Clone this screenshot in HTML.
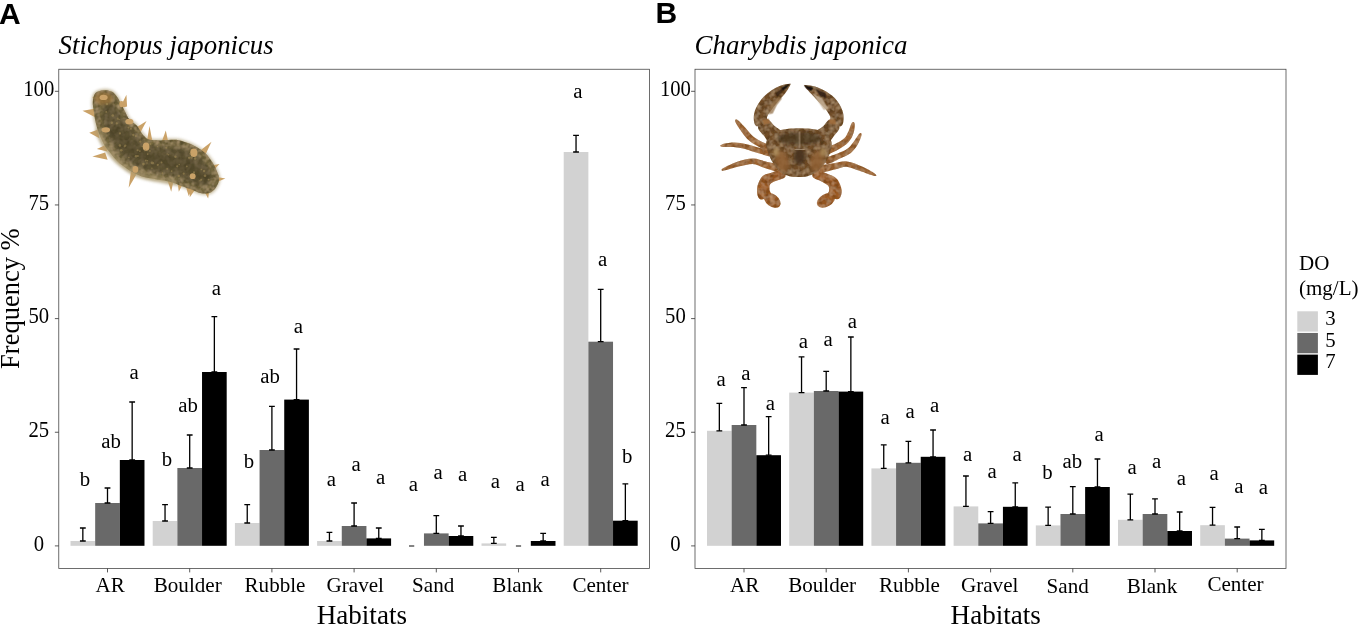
<!DOCTYPE html>
<html><head><meta charset="utf-8"><title>Figure</title>
<style>html,body{margin:0;padding:0;background:#fff;}svg{display:block;}text{font-family:"Liberation Serif",serif;fill:#000;}svg{will-change:transform;}.sans{font-family:"Liberation Sans",sans-serif;font-weight:bold;}</style></head><body>
<svg width="1358" height="625" viewBox="0 0 1358 625">
<rect x="0" y="0" width="1358" height="625" fill="#ffffff"/>
<g id="panelA">
<rect x="70.51" y="541" width="24.66" height="4.8" fill="#d2d2d2"/>
<rect x="95.17" y="503" width="24.66" height="42.8" fill="#696969"/>
<rect x="119.83" y="460" width="24.66" height="85.8" fill="#000000"/>
<rect x="152.71" y="521" width="24.66" height="24.8" fill="#d2d2d2"/>
<rect x="177.37" y="468" width="24.66" height="77.8" fill="#696969"/>
<rect x="202.03" y="372" width="24.66" height="173.8" fill="#000000"/>
<rect x="234.91" y="523" width="24.66" height="22.8" fill="#d2d2d2"/>
<rect x="259.57" y="450" width="24.66" height="95.8" fill="#696969"/>
<rect x="284.23" y="399.6" width="24.66" height="146.2" fill="#000000"/>
<rect x="317.11" y="541" width="24.66" height="4.8" fill="#d2d2d2"/>
<rect x="341.77" y="526" width="24.66" height="19.8" fill="#696969"/>
<rect x="366.43" y="538.4" width="24.66" height="7.4" fill="#000000"/>
<rect x="423.97" y="533.4" width="24.66" height="12.4" fill="#696969"/>
<rect x="448.63" y="536" width="24.66" height="9.8" fill="#000000"/>
<rect x="481.51" y="543.4" width="24.66" height="2.4" fill="#d2d2d2"/>
<rect x="530.83" y="541" width="24.66" height="4.8" fill="#000000"/>
<rect x="563.71" y="152" width="24.66" height="393.8" fill="#d2d2d2"/>
<rect x="588.37" y="341.7" width="24.66" height="204.1" fill="#696969"/>
<rect x="613.03" y="520.7" width="24.66" height="25.1" fill="#000000"/>
<g stroke="#000" stroke-width="1.3" fill="none">
<path d="M79.94 528H85.74M82.84 528V541M79.94 541H85.74"/>
<path d="M104.6 488H110.4M107.5 488V503M104.6 503H110.4"/>
<path d="M129.26 402H135.06M132.16 402V460M129.26 460H135.06"/>
<path d="M162.14 504.6H167.94M165.04 504.6V521M162.14 521H167.94"/>
<path d="M186.8 435H192.6M189.7 435V468M186.8 468H192.6"/>
<path d="M211.46 316.6H217.26M214.36 316.6V372M211.46 372H217.26"/>
<path d="M244.34 504.6H250.14M247.24 504.6V523M244.34 523H250.14"/>
<path d="M269 406.4H274.8M271.9 406.4V450M269 450H274.8"/>
<path d="M293.66 349H299.46M296.56 349V399.6M293.66 399.6H299.46"/>
<path d="M326.54 532.4H332.34M329.44 532.4V541M326.54 541H332.34"/>
<path d="M351.2 503H357M354.1 503V526M351.2 526H357"/>
<path d="M375.86 528H381.66M378.76 528V538.4M375.86 538.4H381.66"/>
<path d="M409.04 546H414.24" stroke-opacity="0.75"/>
<path d="M433.4 515.6H439.2M436.3 515.6V533.4M433.4 533.4H439.2"/>
<path d="M458.06 526H463.86M460.96 526V536M458.06 536H463.86"/>
<path d="M490.94 537.4H496.74M493.84 537.4V543.4M490.94 543.4H496.74"/>
<path d="M515.9 546H521.1" stroke-opacity="0.75"/>
<path d="M540.26 533.4H546.06M543.16 533.4V541M540.26 541H546.06"/>
<path d="M573.14 135.3H578.94M576.04 135.3V152M573.14 152H578.94"/>
<path d="M597.8 289.3H603.6M600.7 289.3V341.7M597.8 341.7H603.6"/>
<path d="M622.46 483.9H628.26M625.36 483.9V520.7M622.46 520.7H628.26"/>
</g>
<rect x="58.78" y="69.25" width="590.72" height="499.25" fill="none" stroke="#444" stroke-width="0.78"/>
<g stroke="#3c3c3c" stroke-width="0.85">
<line x1="54.88" y1="545.9" x2="58.78" y2="545.9"/>
<line x1="54.88" y1="432.25" x2="58.78" y2="432.25"/>
<line x1="54.88" y1="318.6" x2="58.78" y2="318.6"/>
<line x1="54.88" y1="204.95" x2="58.78" y2="204.95"/>
<line x1="54.88" y1="91.3" x2="58.78" y2="91.3"/>
<line x1="107.5" y1="568.5" x2="107.5" y2="572.4"/>
<line x1="189.7" y1="568.5" x2="189.7" y2="572.4"/>
<line x1="271.9" y1="568.5" x2="271.9" y2="572.4"/>
<line x1="354.1" y1="568.5" x2="354.1" y2="572.4"/>
<line x1="436.3" y1="568.5" x2="436.3" y2="572.4"/>
<line x1="518.5" y1="568.5" x2="518.5" y2="572.4"/>
<line x1="600.7" y1="568.5" x2="600.7" y2="572.4"/>
</g>
<g font-size="20.7" text-anchor="middle">
<text transform="translate(38.8 550.5) scale(1 1.09)">0</text>
<text transform="translate(38.8 436.85) scale(1 1.09)">25</text>
<text transform="translate(38.8 323.2) scale(1 1.09)">50</text>
<text transform="translate(38.8 209.55) scale(1 1.09)">75</text>
<text transform="translate(38.8 95.9) scale(1 1.09)">100</text>
</g>
<g font-size="21.1" text-anchor="middle">
<text transform="translate(110.1 591.6) scale(1 1.03)">AR</text>
<text transform="translate(187.7 591.6) scale(1 1.03)">Boulder</text>
<text transform="translate(275 591.6) scale(1 1.03)">Rubble</text>
<text transform="translate(355.3 591.6) scale(1 1.03)">Gravel</text>
<text transform="translate(433.2 591.8) scale(1 1.03)">Sand</text>
<text transform="translate(517.5 591.8) scale(1 1.03)">Blank</text>
<text transform="translate(600.5 591.8) scale(1 1.03)">Center</text>
</g>
<g font-size="20.8" text-anchor="middle">
<text x="85" y="485.6">b</text>
<text x="111" y="448">ab</text>
<text x="134.2" y="379">a</text>
<text x="167" y="466">b</text>
<text x="188" y="412.4">ab</text>
<text x="216.4" y="295.4">a</text>
<text x="249" y="468">b</text>
<text x="270" y="383.4">ab</text>
<text x="298.4" y="333">a</text>
<text x="331.4" y="486">a</text>
<text x="356" y="470.6">a</text>
<text x="380.6" y="483.6">a</text>
<text x="413.4" y="491">a</text>
<text x="438" y="478.6">a</text>
<text x="462.6" y="481">a</text>
<text x="495.4" y="488">a</text>
<text x="520" y="491">a</text>
<text x="545" y="486">a</text>
<text x="577.8" y="97.5">a</text>
<text x="602.6" y="265.6">a</text>
<text x="627.1" y="462.9">b</text>
</g>
</g>
<g id="panelB">
<rect x="707.01" y="430.8" width="24.66" height="115" fill="#d2d2d2"/>
<rect x="731.67" y="425" width="24.66" height="120.8" fill="#696969"/>
<rect x="756.33" y="455.2" width="24.66" height="90.6" fill="#000000"/>
<rect x="789.21" y="392.6" width="24.66" height="153.2" fill="#d2d2d2"/>
<rect x="813.87" y="391" width="24.66" height="154.8" fill="#696969"/>
<rect x="838.53" y="391.6" width="24.66" height="154.2" fill="#000000"/>
<rect x="871.41" y="468.4" width="24.66" height="77.4" fill="#d2d2d2"/>
<rect x="896.07" y="462.8" width="24.66" height="83" fill="#696969"/>
<rect x="920.73" y="456.8" width="24.66" height="89" fill="#000000"/>
<rect x="953.61" y="506.4" width="24.66" height="39.4" fill="#d2d2d2"/>
<rect x="978.27" y="523.4" width="24.66" height="22.4" fill="#696969"/>
<rect x="1002.93" y="506.8" width="24.66" height="39" fill="#000000"/>
<rect x="1035.81" y="525.4" width="24.66" height="20.4" fill="#d2d2d2"/>
<rect x="1060.47" y="514" width="24.66" height="31.8" fill="#696969"/>
<rect x="1085.13" y="487" width="24.66" height="58.8" fill="#000000"/>
<rect x="1118.01" y="519.8" width="24.66" height="26" fill="#d2d2d2"/>
<rect x="1142.67" y="514" width="24.66" height="31.8" fill="#696969"/>
<rect x="1167.33" y="531" width="24.66" height="14.8" fill="#000000"/>
<rect x="1200.21" y="525.2" width="24.66" height="20.6" fill="#d2d2d2"/>
<rect x="1224.87" y="538.6" width="24.66" height="7.2" fill="#696969"/>
<rect x="1249.53" y="540.4" width="24.66" height="5.4" fill="#000000"/>
<g stroke="#000" stroke-width="1.3" fill="none">
<path d="M716.44 403.4H722.24M719.34 403.4V430.8M716.44 430.8H722.24"/>
<path d="M741.1 387.6H746.9M744 387.6V425M741.1 425H746.9"/>
<path d="M765.76 416.6H771.56M768.66 416.6V455.2M765.76 455.2H771.56"/>
<path d="M798.64 356.8H804.44M801.54 356.8V392.6M798.64 392.6H804.44"/>
<path d="M823.3 371.4H829.1M826.2 371.4V391M823.3 391H829.1"/>
<path d="M847.96 337H853.76M850.86 337V391.6M847.96 391.6H853.76"/>
<path d="M880.84 444.8H886.64M883.74 444.8V468.4M880.84 468.4H886.64"/>
<path d="M905.5 441.4H911.3M908.4 441.4V462.8M905.5 462.8H911.3"/>
<path d="M930.16 430H935.96M933.06 430V456.8M930.16 456.8H935.96"/>
<path d="M963.04 476H968.84M965.94 476V506.4M963.04 506.4H968.84"/>
<path d="M987.7 511.6H993.5M990.6 511.6V523.4M987.7 523.4H993.5"/>
<path d="M1012.36 482.8H1018.16M1015.26 482.8V506.8M1012.36 506.8H1018.16"/>
<path d="M1045.24 507.2H1051.04M1048.14 507.2V525.4M1045.24 525.4H1051.04"/>
<path d="M1069.9 486.6H1075.7M1072.8 486.6V514M1069.9 514H1075.7"/>
<path d="M1094.56 459H1100.36M1097.46 459V487M1094.56 487H1100.36"/>
<path d="M1127.44 494.2H1133.24M1130.34 494.2V519.8M1127.44 519.8H1133.24"/>
<path d="M1152.1 498.8H1157.9M1155 498.8V514M1152.1 514H1157.9"/>
<path d="M1176.76 512H1182.56M1179.66 512V531M1176.76 531H1182.56"/>
<path d="M1209.64 507.4H1215.44M1212.54 507.4V525.2M1209.64 525.2H1215.44"/>
<path d="M1234.3 527H1240.1M1237.2 527V538.6M1234.3 538.6H1240.1"/>
<path d="M1258.96 529.4H1264.76M1261.86 529.4V540.4M1258.96 540.4H1264.76"/>
</g>
<rect x="695" y="69.25" width="591" height="499.25" fill="none" stroke="#444" stroke-width="0.78"/>
<g stroke="#3c3c3c" stroke-width="0.85">
<line x1="691.1" y1="545.9" x2="695" y2="545.9"/>
<line x1="691.1" y1="432.25" x2="695" y2="432.25"/>
<line x1="691.1" y1="318.6" x2="695" y2="318.6"/>
<line x1="691.1" y1="204.95" x2="695" y2="204.95"/>
<line x1="691.1" y1="91.3" x2="695" y2="91.3"/>
<line x1="744" y1="568.5" x2="744" y2="572.4"/>
<line x1="826.2" y1="568.5" x2="826.2" y2="572.4"/>
<line x1="908.4" y1="568.5" x2="908.4" y2="572.4"/>
<line x1="990.6" y1="568.5" x2="990.6" y2="572.4"/>
<line x1="1072.8" y1="568.5" x2="1072.8" y2="572.4"/>
<line x1="1155" y1="568.5" x2="1155" y2="572.4"/>
<line x1="1237.2" y1="568.5" x2="1237.2" y2="572.4"/>
</g>
<g font-size="20.7" text-anchor="middle">
<text transform="translate(675.45 550.5) scale(1 1.09)">0</text>
<text transform="translate(675.45 436.85) scale(1 1.09)">25</text>
<text transform="translate(675.45 323.2) scale(1 1.09)">50</text>
<text transform="translate(675.45 209.55) scale(1 1.09)">75</text>
<text transform="translate(675.45 95.9) scale(1 1.09)">100</text>
</g>
<g font-size="21.1" text-anchor="middle">
<text transform="translate(744.7 592.3) scale(1 1.03)">AR</text>
<text transform="translate(822.1 592.3) scale(1 1.03)">Boulder</text>
<text transform="translate(909.5 592.3) scale(1 1.03)">Rubble</text>
<text transform="translate(989.7 592.3) scale(1 1.03)">Gravel</text>
<text transform="translate(1067.7 593.2) scale(1 1.03)">Sand</text>
<text transform="translate(1152 593.2) scale(1 1.03)">Blank</text>
<text transform="translate(1235.5 591.4) scale(1 1.03)">Center</text>
</g>
<g font-size="20.8" text-anchor="middle">
<text x="721.2" y="385.6">a</text>
<text x="745.8" y="380">a</text>
<text x="770.4" y="410">a</text>
<text x="803.4" y="347.6">a</text>
<text x="828" y="346">a</text>
<text x="852.4" y="327.6">a</text>
<text x="885.2" y="423.6">a</text>
<text x="910" y="418">a</text>
<text x="934.6" y="412">a</text>
<text x="967.6" y="461">a</text>
<text x="992.2" y="478">a</text>
<text x="1017" y="461">a</text>
<text x="1047.4" y="479.4">b</text>
<text x="1072.4" y="468">ab</text>
<text x="1099" y="441.4">a</text>
<text x="1132" y="474">a</text>
<text x="1156.6" y="468">a</text>
<text x="1181.4" y="485.4">a</text>
<text x="1214" y="480">a</text>
<text x="1238.8" y="493">a</text>
<text x="1263.4" y="494.4">a</text>
</g>
</g>
<text x="58.6" y="53.6" font-size="26.8" font-style="italic">Stichopus japonicus</text>
<text x="694.6" y="53.6" font-size="26.9" font-style="italic">Charybdis japonica</text>
<text class="sans" x="-1" y="24" font-size="30">A</text>
<text class="sans" x="655.5" y="23.1" font-size="30">B</text>
<text x="316.7" y="624.0" font-size="27.1">Habitats</text>
<text x="950.6" y="624.3" font-size="27.1">Habitats</text>
<text transform="translate(19 368.9) rotate(-90)" font-size="26.5">Frequency %</text>
<text x="1299" y="269.5" font-size="21">DO</text>
<text x="1299" y="295.2" font-size="21">(mg/L)</text>
<rect x="1297.3" y="311.3" width="20.6" height="20.3" fill="#d2d2d2"/>
<text x="1325.3" y="325.2" font-size="20.8">3</text>
<rect x="1297.3" y="332.95" width="20.6" height="20.3" fill="#696969"/>
<text x="1325.3" y="346.8" font-size="20.8">5</text>
<rect x="1297.3" y="354.6" width="20.6" height="20.3" fill="#000000"/>
<text x="1325.3" y="368.4" font-size="20.8">7</text>
<defs><filter id="bl3" x="-20%" y="-20%" width="140%" height="140%"><feGaussianBlur stdDeviation="2.2"/></filter><filter id="bl8" x="-30%" y="-30%" width="160%" height="160%"><feGaussianBlur stdDeviation="8"/></filter><filter id="mot" x="-10%" y="-10%" width="120%" height="120%"><feTurbulence type="fractalNoise" baseFrequency="0.045" numOctaves="2" seed="7" result="n"/><feColorMatrix in="n" type="matrix" values="0 0 0 0 0  0 0 0 0 0  0 0 0 0 0  0.9 0 0 0 -0.32" result="d"/><feComposite in="d" in2="SourceGraphic" operator="in" result="dd"/><feColorMatrix in="n" type="matrix" values="0 0 0 0 0.74  0 0 0 0 0.54  0 0 0 0 0.32  0 0.8 0 0 -0.3" result="l"/><feComposite in="l" in2="SourceGraphic" operator="in" result="ll"/><feMerge><feMergeNode in="SourceGraphic"/><feMergeNode in="dd"/><feMergeNode in="ll"/></feMerge><feGaussianBlur stdDeviation="2.4"/></filter></defs>
<g transform="translate(70,75) scale(0.22388)">
<path d="M113 82C121 73 138 69 150 68C162 67 178 70 188 75C198 80 205 91 212 100C219 109 222 119 228 130C234 141 241 154 247 165C253 176 256 188 265 198C274 208 290 217 300 228C310 239 314 252 322 262C330 272 338 281 348 286C358 291 370 291 385 292C400 293 423 290 440 290C457 290 470 288 485 291C500 294 517 300 530 305C543 310 553 315 565 322C577 329 590 336 602 347C614 358 627 376 636 390C645 404 652 419 657 432C662 445 667 455 666 467C665 479 659 492 652 502C645 512 634 523 622 527C610 531 595 530 582 527C569 524 559 517 545 512C531 507 513 502 500 497C487 492 480 487 468 483C456 479 443 476 430 473C417 470 405 470 390 467C375 464 355 462 340 458C325 454 312 449 300 444C288 439 278 434 268 428C258 422 248 415 238 407C228 399 217 391 208 382C199 373 191 362 183 352C175 342 166 332 158 320C150 308 144 293 138 280C132 267 126 253 122 240C118 227 115 213 112 200C109 187 108 173 106 160C104 147 101 133 102 120C103 107 105 91 113 82Z" fill="#a39060" stroke="#a39060" stroke-width="12" opacity="0.6" filter="url(#bl8)"/>
<g filter="url(#bl3)" fill="#caa268">
<path d="M124 148L56 160L119 192Z"/>
<path d="M126 243L86 258L131 282Z"/>
<path d="M161 311L120 330L167 342Z"/>
<path d="M157 346L100 364L168 379Z"/>
<path d="M222 149L252 88L255 141Z"/>
<path d="M280 245L342 206L307 270Z"/>
<path d="M343 300L355 228L369 300Z"/>
<path d="M405 310L428 248L441 310Z"/>
<path d="M566 349L632 298L599 368Z"/>
<path d="M632 451L694 462L643 484Z"/>
<path d="M623 405L668 398L637 430Z"/>
<path d="M274 417L262 504L306 428Z"/>
<path d="M431 456L452 522L464 464Z"/>
<path d="M480 472L486 522L507 480Z"/>
<path d="M534 497L535 546L562 508Z"/>
<path d="M595 510L617 552L623 510Z"/>
<path d="M128 106L98 100L146 88Z"/>
<path d="M513 483L530 540L552 497Z"/>
</g>
<path d="M113 82C121 73 138 69 150 68C162 67 178 70 188 75C198 80 205 91 212 100C219 109 222 119 228 130C234 141 241 154 247 165C253 176 256 188 265 198C274 208 290 217 300 228C310 239 314 252 322 262C330 272 338 281 348 286C358 291 370 291 385 292C400 293 423 290 440 290C457 290 470 288 485 291C500 294 517 300 530 305C543 310 553 315 565 322C577 329 590 336 602 347C614 358 627 376 636 390C645 404 652 419 657 432C662 445 667 455 666 467C665 479 659 492 652 502C645 512 634 523 622 527C610 531 595 530 582 527C569 524 559 517 545 512C531 507 513 502 500 497C487 492 480 487 468 483C456 479 443 476 430 473C417 470 405 470 390 467C375 464 355 462 340 458C325 454 312 449 300 444C288 439 278 434 268 428C258 422 248 415 238 407C228 399 217 391 208 382C199 373 191 362 183 352C175 342 166 332 158 320C150 308 144 293 138 280C132 267 126 253 122 240C118 227 115 213 112 200C109 187 108 173 106 160C104 147 101 133 102 120C103 107 105 91 113 82Z" fill="#74673f" filter="url(#mot)"/>
<path d="M150 120C158 110 181 122 195 135C209 148 220 175 235 195C250 215 268 238 285 255C302 272 313 289 335 300C357 311 388 317 415 322C442 327 474 322 500 328C526 334 550 344 570 358C590 372 608 396 618 415C628 434 633 457 628 470C623 483 610 496 590 495C570 494 532 471 505 462C478 453 452 448 425 442C398 436 370 433 345 425C320 417 294 406 272 392C250 378 232 360 215 340C198 320 183 296 172 272C161 248 152 220 148 195C144 170 142 130 150 120Z" fill="#4c432a" opacity="0.55" filter="url(#bl8)"/>
<path d="M125 250C150 330 215 395 290 440C350 462 420 470 470 480" stroke="#ab9a70" stroke-width="26" fill="none" opacity="0.6" stroke-linecap="round" filter="url(#bl8)"/>
<ellipse cx="150" cy="105" rx="42" ry="28" fill="#9a7238" opacity="0.7" filter="url(#bl8)"/>
<path d="M200 250C260 340 330 370 420 385C500 395 560 420 600 460" stroke="#3f371f" stroke-width="45" fill="none" opacity="0.3" stroke-linecap="round" filter="url(#bl8)"/>
<g filter="url(#bl3)" fill="#caa268">
<ellipse cx="265" cy="208" rx="18" ry="13"/>
<ellipse cx="160" cy="245" rx="19" ry="12"/>
<ellipse cx="340" cy="320" rx="15" ry="18"/>
<ellipse cx="553" cy="347" rx="16" ry="19"/>
<ellipse cx="292" cy="422" rx="13" ry="15"/>
<ellipse cx="548" cy="452" rx="13" ry="13"/>
<ellipse cx="150" cy="100" rx="18" ry="12"/>
<ellipse cx="230" cy="130" rx="10" ry="14"/>
</g>
<g fill="#a08a55" opacity="0.6" filter="url(#bl3)">
<circle cx="244" cy="319" r="4.1"/>
<circle cx="434" cy="353" r="3.2"/>
<circle cx="392" cy="401" r="5.0"/>
<circle cx="366" cy="392" r="5.6"/>
<circle cx="191" cy="181" r="5.9"/>
<circle cx="347" cy="353" r="3.9"/>
<circle cx="302" cy="336" r="4.8"/>
<circle cx="603" cy="450" r="6.0"/>
<circle cx="223" cy="261" r="4.8"/>
<circle cx="619" cy="467" r="4.1"/>
<circle cx="359" cy="308" r="4.9"/>
<circle cx="430" cy="325" r="4.9"/>
<circle cx="344" cy="393" r="3.7"/>
<circle cx="391" cy="320" r="3.0"/>
<circle cx="336" cy="334" r="3.1"/>
<circle cx="440" cy="356" r="3.2"/>
<circle cx="488" cy="400" r="3.1"/>
<circle cx="357" cy="339" r="4.0"/>
<circle cx="312" cy="340" r="3.9"/>
<circle cx="346" cy="383" r="3.3"/>
<circle cx="295" cy="363" r="5.7"/>
<circle cx="454" cy="429" r="4.0"/>
<circle cx="187" cy="213" r="5.4"/>
<circle cx="261" cy="235" r="4.3"/>
<circle cx="508" cy="441" r="5.0"/>
<circle cx="586" cy="468" r="4.7"/>
<circle cx="209" cy="216" r="5.0"/>
<circle cx="223" cy="315" r="5.5"/>
<circle cx="599" cy="429" r="5.5"/>
<circle cx="366" cy="416" r="3.0"/>
<circle cx="303" cy="362" r="4.8"/>
<circle cx="409" cy="391" r="4.1"/>
<circle cx="162" cy="165" r="4.1"/>
<circle cx="434" cy="419" r="4.1"/>
<circle cx="537" cy="352" r="4.3"/>
<circle cx="314" cy="298" r="5.1"/>
<circle cx="339" cy="382" r="4.4"/>
<circle cx="247" cy="315" r="5.1"/>
<circle cx="587" cy="422" r="3.8"/>
<circle cx="543" cy="368" r="5.7"/>
<circle cx="532" cy="370" r="5.2"/>
<circle cx="559" cy="373" r="5.5"/>
<circle cx="413" cy="438" r="3.7"/>
<circle cx="213" cy="195" r="4.8"/>
<circle cx="479" cy="408" r="5.0"/>
<circle cx="554" cy="435" r="4.7"/>
<circle cx="370" cy="393" r="5.6"/>
<circle cx="328" cy="398" r="5.9"/>
<circle cx="219" cy="199" r="3.6"/>
<circle cx="486" cy="451" r="5.7"/>
<circle cx="283" cy="268" r="5.2"/>
<circle cx="165" cy="129" r="5.5"/>
<circle cx="272" cy="240" r="4.7"/>
<circle cx="294" cy="273" r="4.5"/>
<circle cx="229" cy="336" r="5.9"/>
<circle cx="323" cy="319" r="3.4"/>
<circle cx="263" cy="369" r="3.3"/>
<circle cx="581" cy="472" r="3.3"/>
<circle cx="522" cy="408" r="3.9"/>
<circle cx="471" cy="365" r="5.4"/>
</g>
</g>
<g transform="translate(710,75) scale(0.22388)">
<g filter="url(#mot)" fill="#9c6433">
<path d="M290 322C284 314 257 311 241 303C225 295 207 286 193 275C180 264 171 250 159 237C148 225 131 206 123 201C115 196 110 200 113 209C116 218 130 238 141 253C151 267 162 283 177 295C191 307 212 318 229 327C246 336 270 349 280 348C290 347 297 330 290 322Z"/>
<path d="M283 339C274 333 243 331 223 326C203 321 182 313 163 309C143 305 124 301 105 302C87 302 60 307 52 311C43 314 44 319 52 321C61 323 87 321 105 322C122 324 139 327 157 331C176 336 197 345 217 350C237 356 266 366 277 365C288 363 292 346 283 339Z"/>
<path d="M304 401C296 394 268 391 249 386C230 382 211 372 190 373C169 373 144 380 122 387C100 395 68 410 58 417C48 423 50 429 62 427C74 426 107 414 128 409C149 404 171 397 190 397C209 398 224 408 241 414C259 419 286 431 296 429C307 427 312 408 304 401Z"/>
<path d="M526 353C536 353 561 339 577 330C592 321 609 311 619 299C630 287 637 273 641 259C646 246 648 224 646 217C645 209 638 208 634 213C629 219 624 239 619 251C613 262 610 272 601 281C591 290 578 299 563 306C549 314 521 319 514 327C508 335 515 352 526 353Z"/>
<path d="M525 397C536 397 563 382 580 373C598 365 616 358 629 348C642 337 651 324 659 311C667 298 676 276 677 268C679 260 673 257 667 262C661 267 650 288 641 299C632 310 627 320 615 328C603 337 586 343 570 351C553 358 522 365 515 373C508 381 514 397 525 397Z"/>
<path d="M498 434C509 436 539 426 558 422C576 418 593 409 611 410C629 412 648 422 668 428C688 435 721 448 733 451C744 453 747 449 737 441C728 434 697 417 676 408C655 398 634 388 613 386C592 383 573 391 552 394C532 398 501 400 492 406C483 413 487 431 498 434Z"/>
</g>
<g filter="url(#mot)" fill="#9c5c25">
<path d="M324 422C314 419 292 430 277 436C261 441 242 443 231 456C220 469 211 495 210 511C209 528 214 550 224 555C234 560 265 548 272 541C279 534 266 522 266 513C266 504 265 494 269 488C274 482 282 480 293 474C304 469 331 463 336 454C341 445 334 425 324 422Z"/>
<path d="M459 456C464 465 489 470 501 477C513 484 524 490 529 496C534 503 532 510 532 517C532 524 519 532 526 538C533 544 563 558 574 554C584 550 589 530 588 515C587 500 578 476 567 464C555 451 535 446 519 439C503 433 481 421 471 424C461 427 454 447 459 456Z"/>
<ellipse cx="278" cy="560" rx="42" ry="27" transform="rotate(38 278 560)"/>
<ellipse cx="518" cy="560" rx="44" ry="28" transform="rotate(-30 518 560)"/>
</g>
<g filter="url(#mot)" fill="#73502c">
<path d="M323 262C325 248 300 239 288 228C277 217 266 197 253 198C241 198 216 220 215 232C213 245 231 259 242 272C252 285 263 310 277 308C290 307 321 275 323 262Z"/>
<path d="M255 223C263 216 252 198 255 187C259 175 267 166 276 154C285 141 299 125 309 112C320 100 331 89 339 77C348 66 356 51 359 44C361 38 362 39 355 40C348 40 331 41 317 47C303 52 286 60 271 72C255 83 236 99 224 116C212 133 200 155 197 173C194 192 195 219 205 227C215 235 247 230 255 223Z"/>
<path d="M518 308C532 310 544 284 554 271C564 259 581 243 578 231C576 219 550 199 538 199C526 198 517 218 506 229C495 239 470 248 472 262C474 275 505 307 518 308Z"/>
<path d="M588 227C597 218 599 192 595 173C592 155 581 132 568 116C556 99 537 86 521 75C505 65 488 57 472 52C456 47 435 46 426 45C418 45 419 44 424 51C428 57 442 73 452 84C462 95 474 107 485 119C496 130 509 143 518 154C526 166 533 175 537 187C540 198 530 217 538 223C547 230 578 235 588 227Z"/>
</g>
<g filter="url(#bl3)">
<path d="M318 58L358 38L345 54L325 72Z" fill="#15100a"/>
<path d="M290 80L325 58L322 78L300 98Z" fill="#3a2414" opacity="0.85"/>
<path d="M420 46L462 56L452 72L432 62Z" fill="#15100a"/>
<path d="M470 62L515 80L520 104L490 92Z" fill="#2a1a10" opacity="0.85"/>
<path d="M455 80L498 102L528 150L508 156L478 112Z" fill="#c9b59b" opacity="0.8"/>
<path d="M305 96L272 135L262 175L280 172L298 135L322 104Z" fill="#94714a" opacity="0.75"/>
<path d="M235 200L262 195L268 215L240 222Z" fill="#a06a38" opacity="0.8"/>
<path d="M530 200L560 198L562 220L535 218Z" fill="#a06a38" opacity="0.8"/>
</g>
<path d="M250 310C250 296 256 282 266 272C276 262 286 254 308 248C330 242 369 238 400 238C431 238 470 242 492 248C514 254 521 262 530 272C539 282 544 296 544 310C544 324 538 343 532 358C526 373 517 389 506 402C495 415 480 430 468 438C456 446 447 449 435 452C423 455 408 456 395 456C382 456 367 455 355 452C343 449 333 446 322 438C311 430 298 415 288 402C278 389 270 373 264 358C258 343 250 324 250 310Z" fill="#73502c" filter="url(#mot)"/>
<g filter="url(#bl8)">
<ellipse cx="400" cy="284" rx="100" ry="28" fill="#43331f" opacity="0.7"/>
<ellipse cx="322" cy="385" rx="30" ry="48" fill="#8f5f32" opacity="0.85" transform="rotate(-15 322 385)"/>
<ellipse cx="478" cy="385" rx="30" ry="48" fill="#8f5f32" opacity="0.85" transform="rotate(15 478 385)"/>
<ellipse cx="400" cy="365" rx="26" ry="38" fill="#45301c" opacity="0.9"/>
<ellipse cx="295" cy="345" rx="14" ry="18" fill="#b3925f" opacity="0.8"/>
<ellipse cx="505" cy="345" rx="14" ry="18" fill="#b3925f" opacity="0.8"/>
</g>
<path d="M400 252V328M378 332H424" stroke="#c2ad92" stroke-width="5" fill="none" opacity="0.75" filter="url(#bl3)"/>
</g>
</svg></body></html>
